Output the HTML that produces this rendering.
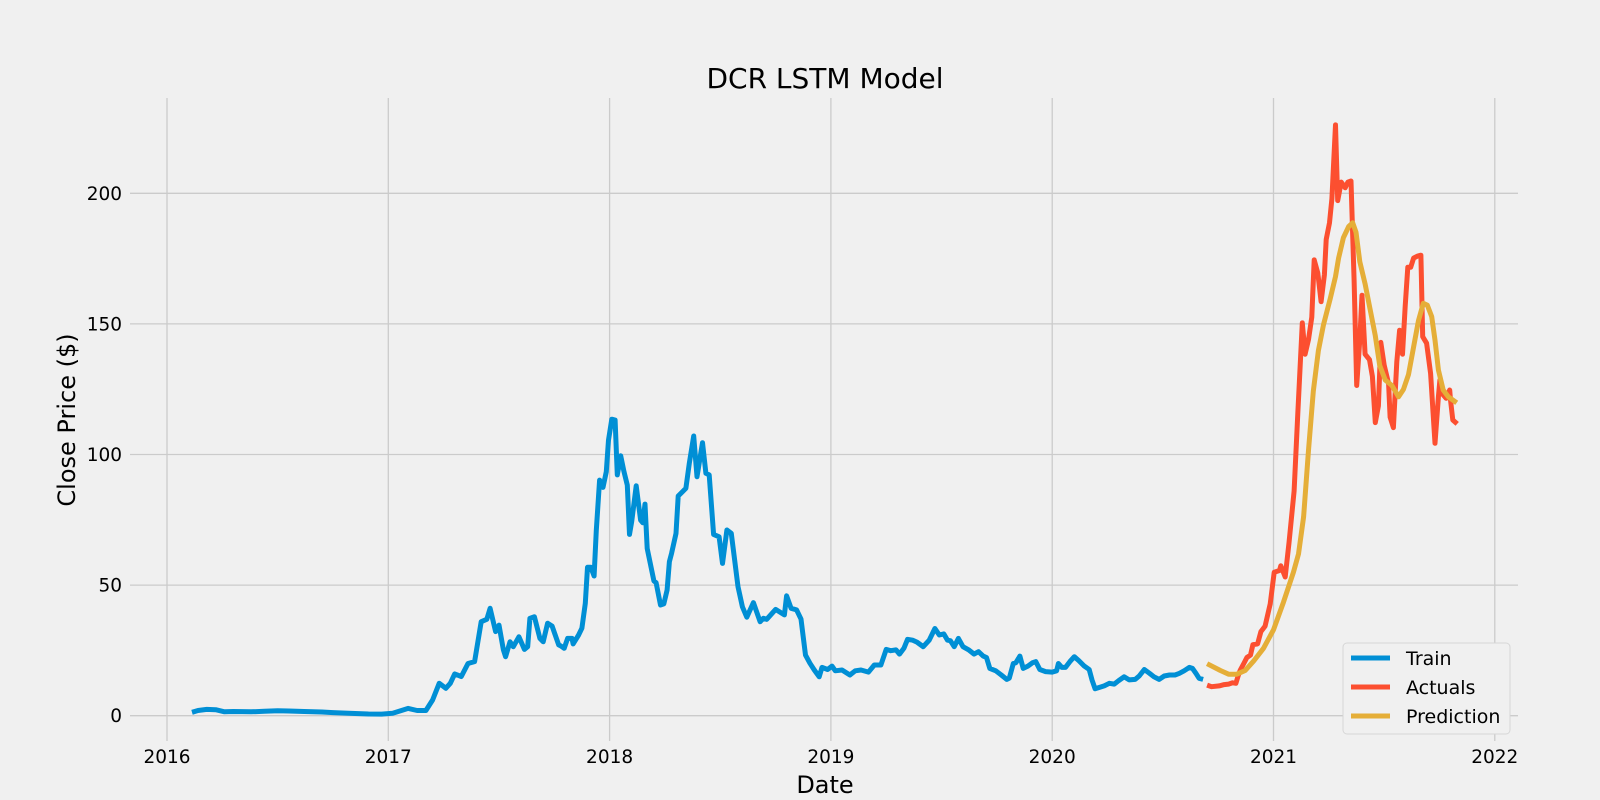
<!DOCTYPE html>
<html><head><meta charset="utf-8"><style>
html,body{margin:0;padding:0;background:#f0f0f0;}
svg{display:block;font-family:"DejaVu Sans","Liberation Sans",sans-serif;}
</style></head><body>
<svg id="chart" width="1600" height="800" viewBox="0 0 1600 800" xmlns="http://www.w3.org/2000/svg">
<rect x="0" y="0" width="1600" height="800" fill="#f0f0f0"/>
<g id="grid"></g>
<g id="series"></g>
<g id="ticks"></g>
<text x="825" y="88" font-size="28" text-anchor="middle" fill="#000">DCR LSTM Model</text>
<text x="825" y="793" font-size="24" text-anchor="middle" fill="#000">Date</text>
<text transform="translate(75,420) rotate(-90)" font-size="24" text-anchor="middle" fill="#000">Close Price ($)</text>
<g>
<rect x="1343" y="643" width="167" height="91" rx="4" fill="#f0f0f0" stroke="#d6d6d6" stroke-width="1"/>
<g><line x1="1351" y1="658" x2="1390" y2="658" stroke="#008fd5" stroke-width="5"/><text x="1406" y="665" font-size="19">Train</text></g>
<g><line x1="1351" y1="687" x2="1390" y2="687" stroke="#fc4f30" stroke-width="5"/><text x="1406" y="694" font-size="19">Actuals</text></g>
<g><line x1="1351" y1="716" x2="1390" y2="716" stroke="#e5ae38" stroke-width="5"/><text x="1406" y="723" font-size="19">Prediction</text></g>
</g>
</svg>
<script>
const xTickLabels=[2016,2017,2018,2019,2020,2021,2022];
const yTickLabels=[0,50,100,150,200];
const trainDates=[2016.113,2016.14,2016.18,2016.22,2016.26,2016.3,2016.38,2016.44,2016.5,2016.55,2016.62,2016.7,2016.75,2016.82,2016.91,2016.97,2017.02,2017.09,2017.13,2017.17,2017.20,2017.23,2017.26,2017.28,2017.30,2017.33,2017.36,2017.39,2017.42,2017.445,2017.46,2017.485,2017.50,2017.52,2017.53,2017.55,2017.565,2017.59,2017.615,2017.63,2017.64,2017.66,2017.685,2017.70,2017.72,2017.74,2017.77,2017.78,2017.795,2017.81,2017.83,2017.835,2017.86,2017.875,2017.89,2017.90,2017.915,2017.93,2017.94,2017.955,2017.97,2017.985,2017.995,2018.01,2018.025,2018.035,2018.05,2018.065,2018.08,2018.09,2018.10,2018.12,2018.14,2018.15,2018.16,2018.17,2018.20,2018.21,2018.23,2018.245,2018.26,2018.27,2018.28,2018.30,2018.31,2018.33,2018.345,2018.36,2018.38,2018.395,2018.42,2018.435,2018.45,2018.47,2018.495,2018.51,2018.53,2018.55,2018.58,2018.60,2018.62,2018.65,2018.68,2018.695,2018.71,2018.75,2018.79,2018.80,2018.82,2018.845,2018.865,2018.885,2018.905,2018.925,2018.947,2018.96,2018.985,2019.005,2019.02,2019.05,2019.086,2019.11,2019.136,2019.17,2019.196,2019.226,2019.25,2019.27,2019.294,2019.31,2019.33,2019.346,2019.37,2019.39,2019.417,2019.444,2019.47,2019.49,2019.51,2019.527,2019.54,2019.557,2019.576,2019.597,2019.624,2019.647,2019.667,2019.688,2019.703,2019.718,2019.745,2019.77,2019.795,2019.806,2019.824,2019.836,2019.854,2019.869,2019.89,2019.911,2019.926,2019.944,2019.97,2020.0,2020.02,2020.028,2020.044,2020.06,2020.08,2020.10,2020.12,2020.145,2020.167,2020.18,2020.194,2020.212,2020.235,2020.258,2020.28,2020.30,2020.325,2020.348,2020.375,2020.393,2020.416,2020.44,2020.46,2020.483,2020.506,2020.53,2020.555,2020.574,2020.596,2020.62,2020.634,2020.65,2020.664,2020.682];
const trainPrices=[1.3,2.0,2.4,2.3,1.5,1.6,1.5,1.7,1.9,1.8,1.6,1.4,1.2,0.9,0.65,0.6,0.9,2.8,2.0,2.0,6.0,12.4,10.5,12.4,16.0,15,20,20.7,36,36.9,41.1,32.2,34.7,25.2,22.6,28.3,26.4,30.2,25.4,26.4,37.3,37.9,29.6,28.3,35.4,34.3,27.1,26.7,25.8,29.6,29.6,27.5,30.9,33.5,43,56.8,56.8,53.5,71,90.2,87.4,93.4,105.5,113.5,113.2,92.2,99.5,93.4,88.3,69.4,74.3,88,74.9,73.9,81,64,51.6,50.9,42.4,42.8,48.1,59,62.2,69.8,84.1,85.8,87.1,96.6,107.1,91.5,104.5,92.8,92.2,69.4,68.5,58.3,71.1,69.8,49.4,41.7,37.7,43.3,36,37.3,36.9,40.7,38.6,45.9,41.1,40.5,37,23.2,20.1,17.5,14.9,18.5,17.7,19,17.2,17.5,15.6,17.2,17.5,16.7,19.4,19.4,25.4,24.9,25.2,23.6,25.8,29.2,28.9,28.1,26.4,28.9,33.4,30.9,31.3,28.9,28.7,26.4,29.6,26.4,25.1,23.6,24.5,22.8,22.3,18.1,17.2,15.6,13.9,14.4,20,20.3,22.8,18.1,19,20.3,20.7,17.7,16.9,16.7,17.2,20,18.5,18.5,20.7,22.6,21.1,19,17.7,13.7,10.3,10.8,11.4,12.4,12.1,13.4,14.9,13.7,13.9,15.2,17.7,16.2,14.9,13.9,15.2,15.6,15.6,16.2,17.2,18.5,18.1,16.2,14.3,13.9];
const actualDates=[2020.70,2020.72,2020.754,2020.777,2020.797,2020.815,2020.83,2020.84,2020.85,2020.866,2020.88,2020.896,2020.907,2020.928,2020.943,2020.962,2020.985,2021.003,2021.027,2021.033,2021.053,2021.07,2021.093,2021.11,2021.13,2021.143,2021.158,2021.173,2021.184,2021.2,2021.215,2021.23,2021.238,2021.253,2021.264,2021.28,2021.29,2021.306,2021.324,2021.336,2021.35,2021.364,2021.376,2021.39,2021.4,2021.414,2021.434,2021.447,2021.46,2021.474,2021.485,2021.5,2021.52,2021.527,2021.542,2021.557,2021.57,2021.583,2021.595,2021.607,2021.62,2021.633,2021.65,2021.666,2021.674,2021.692,2021.71,2021.73,2021.745,2021.752,2021.767,2021.78,2021.796,2021.80,2021.81,2021.83];
const actualPrices=[11.7,11.1,11.4,11.9,12.1,12.6,12.4,15.2,17.5,20,22.3,23.2,27.2,27.5,32.2,34.3,42.8,54.9,55.6,57.4,53.1,66.2,86,115.7,150.4,138.4,144,152.6,174.5,169.5,158.5,168.8,182.3,188.7,197.9,226.2,197.2,204.3,202.1,204.3,204.7,166.7,126.4,144,161,138.4,136.3,129.9,112.2,118.6,142.9,134.2,127.1,114.3,110.3,135.5,147.6,138.4,156.8,171.7,171.7,175.2,175.9,176.3,145.1,142.6,131,104.3,122.1,128.5,122.8,121.5,124.7,120.9,113.2,111.7];
const predDates=[2020.70,2020.76,2020.797,2020.834,2020.872,2020.91,2020.955,2021.0,2021.045,2021.09,2021.113,2021.136,2021.158,2021.18,2021.203,2021.226,2021.256,2021.28,2021.294,2021.316,2021.34,2021.358,2021.373,2021.39,2021.414,2021.437,2021.46,2021.48,2021.505,2021.535,2021.565,2021.587,2021.61,2021.633,2021.655,2021.677,2021.695,2021.715,2021.73,2021.745,2021.767,2021.79,2021.828];
const predPrices=[19.9,17.3,15.9,15.9,17.3,20.9,25.8,32.9,43.5,54.9,61.9,76.1,101.6,124.2,139.8,149.7,159.6,168.1,175.2,183,187.3,188.7,185.1,173.8,165.3,155.4,145.5,134.1,128.5,126.4,122.1,124.9,130.6,141.2,151.3,157.9,157.2,152.8,143.8,132.4,124.7,122.1,119.8];

const NS='http://www.w3.org/2000/svg';
const X0=167, XS=221.3, Y0=715.7, YS=2.612;
function xScale(d){return X0+(d-2016)*XS;}
function yScale(v){return Y0-v*YS;}
const grid=document.getElementById('grid');
const ticks=document.getElementById('ticks');
const series=document.getElementById('series');
function mk(tag,attrs,parent){const e=document.createElementNS(NS,tag);for(const k in attrs)e.setAttribute(k,attrs[k]);parent.appendChild(e);return e;}
xTickLabels.forEach(t=>{
  const x=xScale(t);
  const g=mk('line',{x1:x,y1:98,x2:x,y2:741,stroke:'#cbcbcb','stroke-width':1.3},grid);
  
  
  const tx=mk('text',{x:x,y:763,'font-size':18.5,'text-anchor':'middle',fill:'#000'},ticks);
  tx.textContent=t;
  
  
});
yTickLabels.forEach(t=>{
  const y=yScale(t);
  const g=mk('line',{x1:130,y1:y,x2:1518,y2:y,stroke:'#cbcbcb','stroke-width':1.3},grid);
  
  
  const tx=mk('text',{x:122,y:y+6.5,'font-size':18.5,'text-anchor':'end',fill:'#000'},ticks);
  tx.textContent=t;
  
  
});
function drawLine(dates,vals,color,name){
  const d=dates.map((t,i)=>(i?'L':'M')+xScale(t).toFixed(1)+','+yScale(vals[i]).toFixed(1)).join('');
  const p=mk('path',{d:d,fill:'none',stroke:color,'stroke-width':5,'stroke-linejoin':'round','stroke-linecap':'butt'},series);
  
  
}
drawLine(trainDates,trainPrices,'#008fd5','train-line');
drawLine(actualDates,actualPrices,'#fc4f30','actuals-line');
drawLine(predDates,predPrices,'#e5ae38','prediction-line');
</script>
</body></html>
